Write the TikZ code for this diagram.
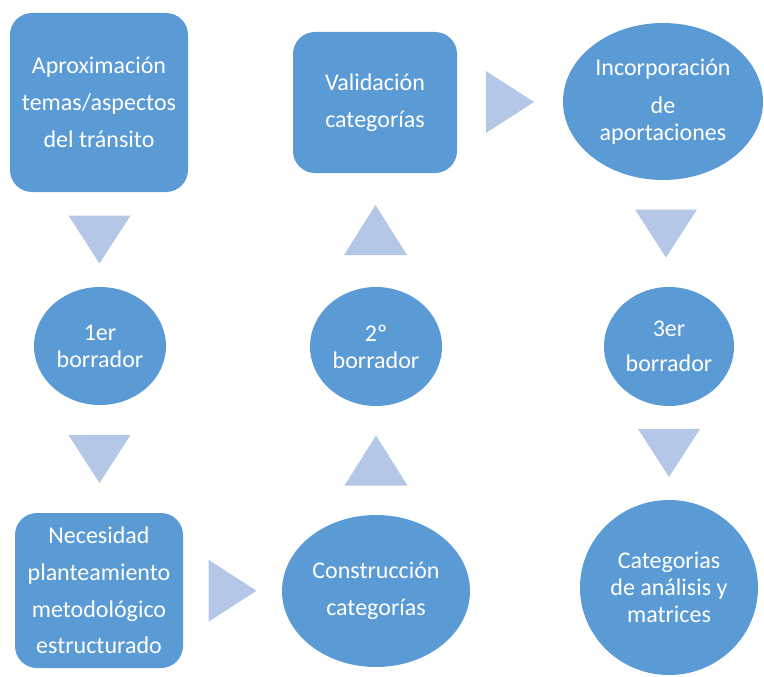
\documentclass[tikz,border=0pt]{standalone}
\usepackage{fontspec}
\setmainfont{Carlito}
\usetikzlibrary{shapes.geometric,calc}
\definecolor{boxblue}{RGB}{91,155,213}
\definecolor{triblue}{RGB}{180,199,231}

\begin{document}
\begin{tikzpicture}[x=1pt, y=-1pt,
    blk/.style={fill=boxblue, rounded corners=22pt, inner sep=0pt, text=white, align=center,
                font=\fontsize{24}{36.7}\selectfont},
    ovl/.style={ellipse, fill=boxblue, inner sep=0pt, text=white, align=center,
                font=\fontsize{24}{27}\selectfont},
    tri/.style={fill=triblue}]

% full original canvas
\useasboundingbox (0,0) rectangle (764,677);

% ---- left column ----
\node[blk, minimum width=178, minimum height=179] (aprox) at (99,102.5)
  {Aproximación\\temas/aspectos\\del tránsito};
\node[ovl, minimum width=132, minimum height=118] (bor1) at (100,346) {1er\\borrador};
\node[blk, minimum width=168, minimum height=155] (nec) at (99,590.5)
  {Necesidad\\planteamiento\\metodológico\\estructurado};

% ---- middle column ----
\node[ovl, minimum width=188, minimum height=152, font=\fontsize{24}{37}\selectfont]
  (constr) at (376,591) {Construcción\\categorías};
\node[ovl, minimum width=132, minimum height=119] (bor2) at (376,346.5) {2º\\borrador};
\node[blk, minimum width=164, minimum height=141] (valid) at (375,102.5)
  {Validación\\categorías};

% ---- right column ----
\node[ovl, minimum width=200, minimum height=157] (incorp) at (663,101.5)
  {Incorporación\\[11pt]de\\aportaciones};
\node[ovl, minimum width=130, minimum height=119, font=\fontsize{24}{35}\selectfont]
  (bor3) at (669,346.5) {3er\\borrador};
\node[ovl, minimum width=178, minimum height=175] (cat) at (669,587.5)
  {Categorias\\de análisis y\\matrices};

% ---- triangles between the shapes ----
\foreach \a/\b in {aprox/bor1, bor1/nec, incorp/bor3, bor3/cat}
  \fill[tri] ($(\a.south)!0.5!(\b.north)$) ++(-31,-24) -- ++(62,0) -- ++(-31,48) -- cycle;
\foreach \a/\b in {constr/bor2, bor2/valid}
  \fill[tri] ($(\a.north)!0.5!(\b.south)$) ++(-31.5,25) -- ++(63,0) -- ++(-31.5,-50) -- cycle;
\foreach \a/\b in {nec/constr, valid/incorp}
  \fill[tri] ($(\a.east)!0.5!(\b.west)$) ++(-24,-31) -- ++(0,62) -- ++(48,-31) -- cycle;

\end{tikzpicture}
\end{document}
